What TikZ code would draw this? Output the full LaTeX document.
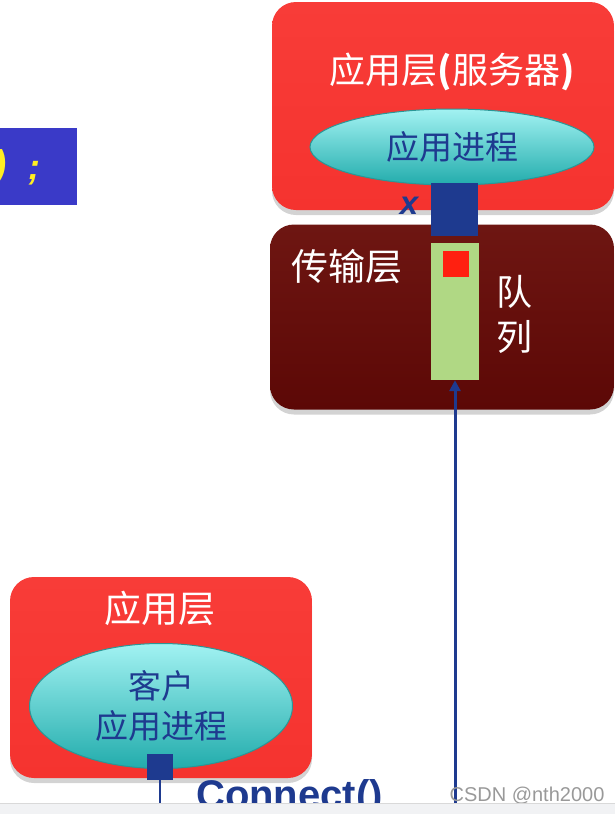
\documentclass[tikz,border=0pt]{standalone}
\usepackage{fontspec}
\setmainfont{Liberation Sans}
\newfontfamily\cjk{Noto Sans CJK SC}
\usetikzlibrary{shapes.geometric,shadows,arrows.meta}
\definecolor{layerred}{HTML}{F5332F}
\definecolor{layerredtop}{HTML}{F83C38}
\definecolor{transtop}{HTML}{6E1612}
\definecolor{transbottom}{HTML}{5C0806}
\definecolor{proctop}{HTML}{A2F2F2}
\definecolor{procbottom}{HTML}{22ACAC}
\definecolor{procline}{HTML}{2A9696}
\definecolor{navy}{HTML}{1E3A8F}
\definecolor{queuegreen}{HTML}{B0D884}
\definecolor{pktred}{HTML}{FF2010}
\definecolor{panelblue}{HTML}{3A3AC8}
\definecolor{semiyellow}{HTML}{FFEE22}
\definecolor{stripgray}{HTML}{F1F2F4}
\begin{document}
\begin{tikzpicture}[x=1pt,y=-1pt,
  layer/.style={rounded corners=24pt,inner sep=0pt,drop shadow={opacity=0.35,shadow xshift=0pt,shadow yshift=-5pt}},
  proc/.style={ellipse,draw=procline,line width=1pt,top color=proctop,bottom color=procbottom,inner sep=0pt,text=navy,align=center,font=\cjk\fontsize{33}{40}\selectfont},
  sock/.style={fill=navy,inner sep=0pt},
  lbl/.style={text=white,inner sep=0pt,font=\cjk\fontsize{36}{40}\selectfont}]
  \useasboundingbox (0,0) rectangle (615,814);
  \fill[panelblue] (0,128) rectangle (77,205);
  \node[text=semiyellow,anchor=east,inner sep=0pt,font=\bfseries\itshape\fontsize{40}{40}\selectfont] (paren) at (7,168) {)};
  \node[text=semiyellow,inner sep=0pt,font=\bfseries\itshape\fontsize{36}{40}\selectfont] (semi) at (34,173) {;};
  \node[layer,top color=layerredtop,bottom color=layerred,minimum width=342pt,minimum height=208pt] (server) at (443,106) {};
  \node[lbl] (servertitle) at (452,72) {应用层\textbf{(}服务器\textbf{)}};
  \node[proc,minimum width=284pt,minimum height=76pt] (sproc) at (452,147) {应用进程};
  \node[layer,top color=transtop,bottom color=transbottom,minimum width=344pt,minimum height=185pt] (trans) at (442,317) {};
  \node[lbl,font=\cjk\fontsize{37}{40}\selectfont] (transtitle) at (347,267) {传输层};
  \node[sock,minimum width=47pt,minimum height=53pt] (ssock) at (454.5,209.5) {};
  \node[text=navy,inner sep=0pt,font=\bfseries\itshape\fontsize{33}{33}\selectfont] (xlbl) at (409,206) {x};
  \node[fill=queuegreen,inner sep=0pt,minimum width=48pt,minimum height=137pt] (queue) at (455,311.5) {};
  \node[fill=pktred,inner sep=0pt,minimum size=26pt] (pkt) at (456,264) {};
  \node[lbl] (dui) at (514,292) {队};
  \node[lbl] (lie) at (514,337) {列};
  \node[layer,top color=layerredtop,bottom color=layerred,minimum width=302pt,minimum height=201pt] (client) at (161,677.5) {};
  \node[lbl,font=\cjk\fontsize{37}{40}\selectfont] (clienttitle) at (160,608) {应用层};
  \node[proc,minimum width=263pt,minimum height=125pt,font=\cjk\fontsize{33}{40}\selectfont] (cproc) at (161,706) {客户\\应用进程};
  \node[sock,minimum size=26pt] (csock) at (160,767) {};
  \coordinate (qin) at (455,814);
  \coordinate (cout) at (160,814);
  \draw[navy,line width=3pt,-{Triangle[length=11pt,width=11pt]}] (qin) -- (queue.south);
  \draw[navy,line width=2.5pt] (csock.south) -- (cout);
  \node[text=navy,anchor=base west,inner sep=0pt,font=\bfseries\fontsize{40}{40}\selectfont] (connect) at (196,808) {Connect()};
  \node[text=gray!80,inner sep=0pt,font=\fontsize{20}{20}\selectfont] (mark) at (527,796) {CSDN @nth2000};
  \fill[stripgray] (0,803) rectangle (615,814);
  \draw[gray!30] (0,803) -- (615,803);
\end{tikzpicture}
\end{document}
